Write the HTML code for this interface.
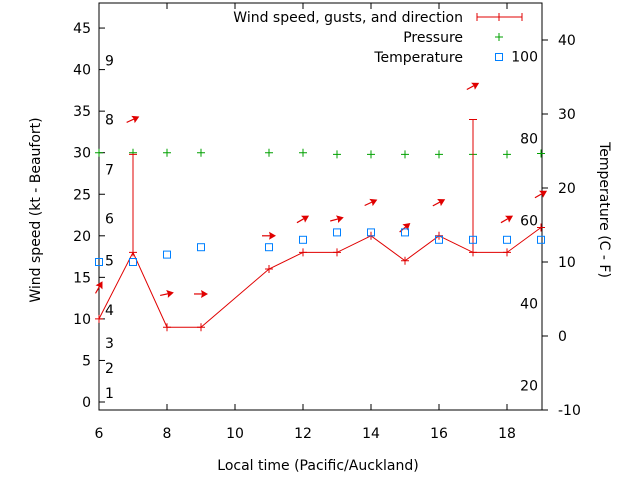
<!DOCTYPE html>
<html><head><meta charset="utf-8"><style>
body{margin:0;background:#fff}
svg text{font-family:"DejaVu Sans","Liberation Sans",sans-serif;font-size:14px;fill:#000}
</style></head><body>
<svg id="c" width="640" height="480"></svg>
<script>
const hours=[6,7,8,9,11,12,13,14,15,16,17,18,19];
const windKt=[10,18,9,9,16,18,18,20,17,20,18,18,21];
const gustKt=[null,29.8,null,null,null,null,null,null,null,null,34,null,null];
const pressure=[30,30,30,30,30,30,29.8,29.8,29.8,29.8,29.8,29.8,29.9];
const tempC=[10,10,11,12,12,13,14,14,14,13,13,13,13];
const arrowKt=[13.8,34,13,13,20,22,22,24,21,24,38,22,25];
const arrowAng=[-60,-25,-12,0,0,-30,-15,-25,-40,-28,-28,-30,-30];
const xTicks=[6,8,10,12,14,16,18];
const yTicks=[0,5,10,15,20,25,30,35,40,45];
const y2Ticks=[-10,0,10,20,30,40];
const beaufort=[[1,1.1],[2,4.1],[3,7.1],[4,11.1],[5,17.0],[6,22.1],[7,28.0],[8,34.0],[9,41.1]];
const fahr=[[20,-6.7],[40,4.4],[60,15.6],[80,26.7],[100,37.8]];

const L=99,R=542,T=3,B=410;
const X=h=>L+(h-6)*34;
const Y=v=>402-v*8.31;
const Y2=c=>336-c*7.4;
const svg=document.getElementById('c');
const NS='http://www.w3.org/2000/svg';
function mk(tag,at,name,parent){const e=document.createElementNS(NS,tag);for(const k in at)e.setAttribute(k,at[k]);


(parent||svg).appendChild(e);return e;}
function txt(x,y,s,name,anchor,extra){const t=mk('text',Object.assign({x:x,y:y,'text-anchor':anchor||'start'},extra||{}),name);t.textContent=s;return t;}

mk('rect',{x:L,y:T,width:R-L,height:B-T,fill:'none',stroke:'#000','stroke-width':1},'plot-frame');
xTicks.forEach(h=>{mk('line',{x1:X(h),x2:X(h),y1:B,y2:B-6,stroke:'#000'},'x-tick');mk('line',{x1:X(h),x2:X(h),y1:T,y2:T+6,stroke:'#000'},'x-tick-top');txt(X(h),438,h,'x-tick-label','middle');});
yTicks.forEach(v=>{mk('line',{x1:L,x2:L+6,y1:Y(v),y2:Y(v),stroke:'#000'},'y-tick');txt(L-8,Y(v)+5,v,'y-tick-label','end');});
y2Ticks.forEach(c=>{mk('line',{x1:R,x2:R+6,y1:Y2(c),y2:Y2(c),stroke:'#000'},'y2-tick');txt(R+16,Y2(c)+5,c,'y2-tick-label','start');});
beaufort.forEach(b=>txt(105,Y(b[1])+5,b[0],'beaufort-label'));
fahr.forEach(f=>txt(538,Y2(f[1])+5,f[0],'fahrenheit-label','end'));
txt(318,470,'Local time (Pacific/Auckland)','x-axis-title','middle');
txt(0,0,'Wind speed (kt - Beaufort)','y-axis-title','middle',{transform:'translate(40,210) rotate(-90)'});
txt(0,0,'Temperature (C - F)','y2-axis-title','middle',{transform:'translate(600,210) rotate(90)'});

hours.forEach((h,i)=>{const x=X(h),y=Y(pressure[i]);mk('path',{d:`M${x-4} ${y}H${x+4}M${x} ${y-4}V${y+4}`,stroke:'#00a000','stroke-width':1},'pressure-point');});
hours.forEach((h,i)=>{if(gustKt[i]==null)return;const x=X(h),y=Y(gustKt[i]);mk('path',{d:`M${x} ${Y(windKt[i])}V${y}M${x-4} ${y}H${x+4}`,stroke:'#e00000','stroke-width':1},'gust-bar');});
mk('polyline',{points:hours.map((h,i)=>X(h)+','+Y(windKt[i])).join(' '),fill:'none',stroke:'#e00000','stroke-width':1},'wind-speed-line');
hours.forEach((h,i)=>{const x=X(h),y=Y(windKt[i]);mk('path',{d:`M${x-4} ${y}H${x+4}M${x} ${y-4}V${y+4}`,stroke:'#e00000'},'wind-point');});
hours.forEach((h,i)=>{const g=mk('g',{transform:`translate(${X(h)},${Y(arrowKt[i])}) rotate(${arrowAng[i]})`},'direction-arrow');
mk('line',{x1:-7,y1:0,x2:4,y2:0,stroke:'#e00000','stroke-width':1.2},'arrow-shaft',g);
mk('polygon',{points:'7,0 0,-4 1,0 0,4',fill:'#e00000'},'arrow-head',g);});
hours.forEach((h,i)=>mk('rect',{x:X(h)-3.5,y:Y2(tempC[i])-3.5,width:7,height:7,fill:'none',stroke:'#0080ff','stroke-width':1},'temperature-point'));
txt(463,22,'Wind speed, gusts, and direction','legend-wind-label','end');
mk('path',{d:'M477 17H522M477 13V21M522 13V21M499 13V21',stroke:'#e00000'},'legend-wind-symbol');
txt(463,42,'Pressure','legend-pressure-label','end');
mk('path',{d:'M495 37H503M499 33V41',stroke:'#00a000'},'legend-pressure-symbol');
txt(463,62,'Temperature','legend-temperature-label','end');
mk('rect',{x:495.5,y:53.5,width:7,height:7,fill:'none',stroke:'#0080ff'},'legend-temperature-symbol');
</script>
</body></html>
